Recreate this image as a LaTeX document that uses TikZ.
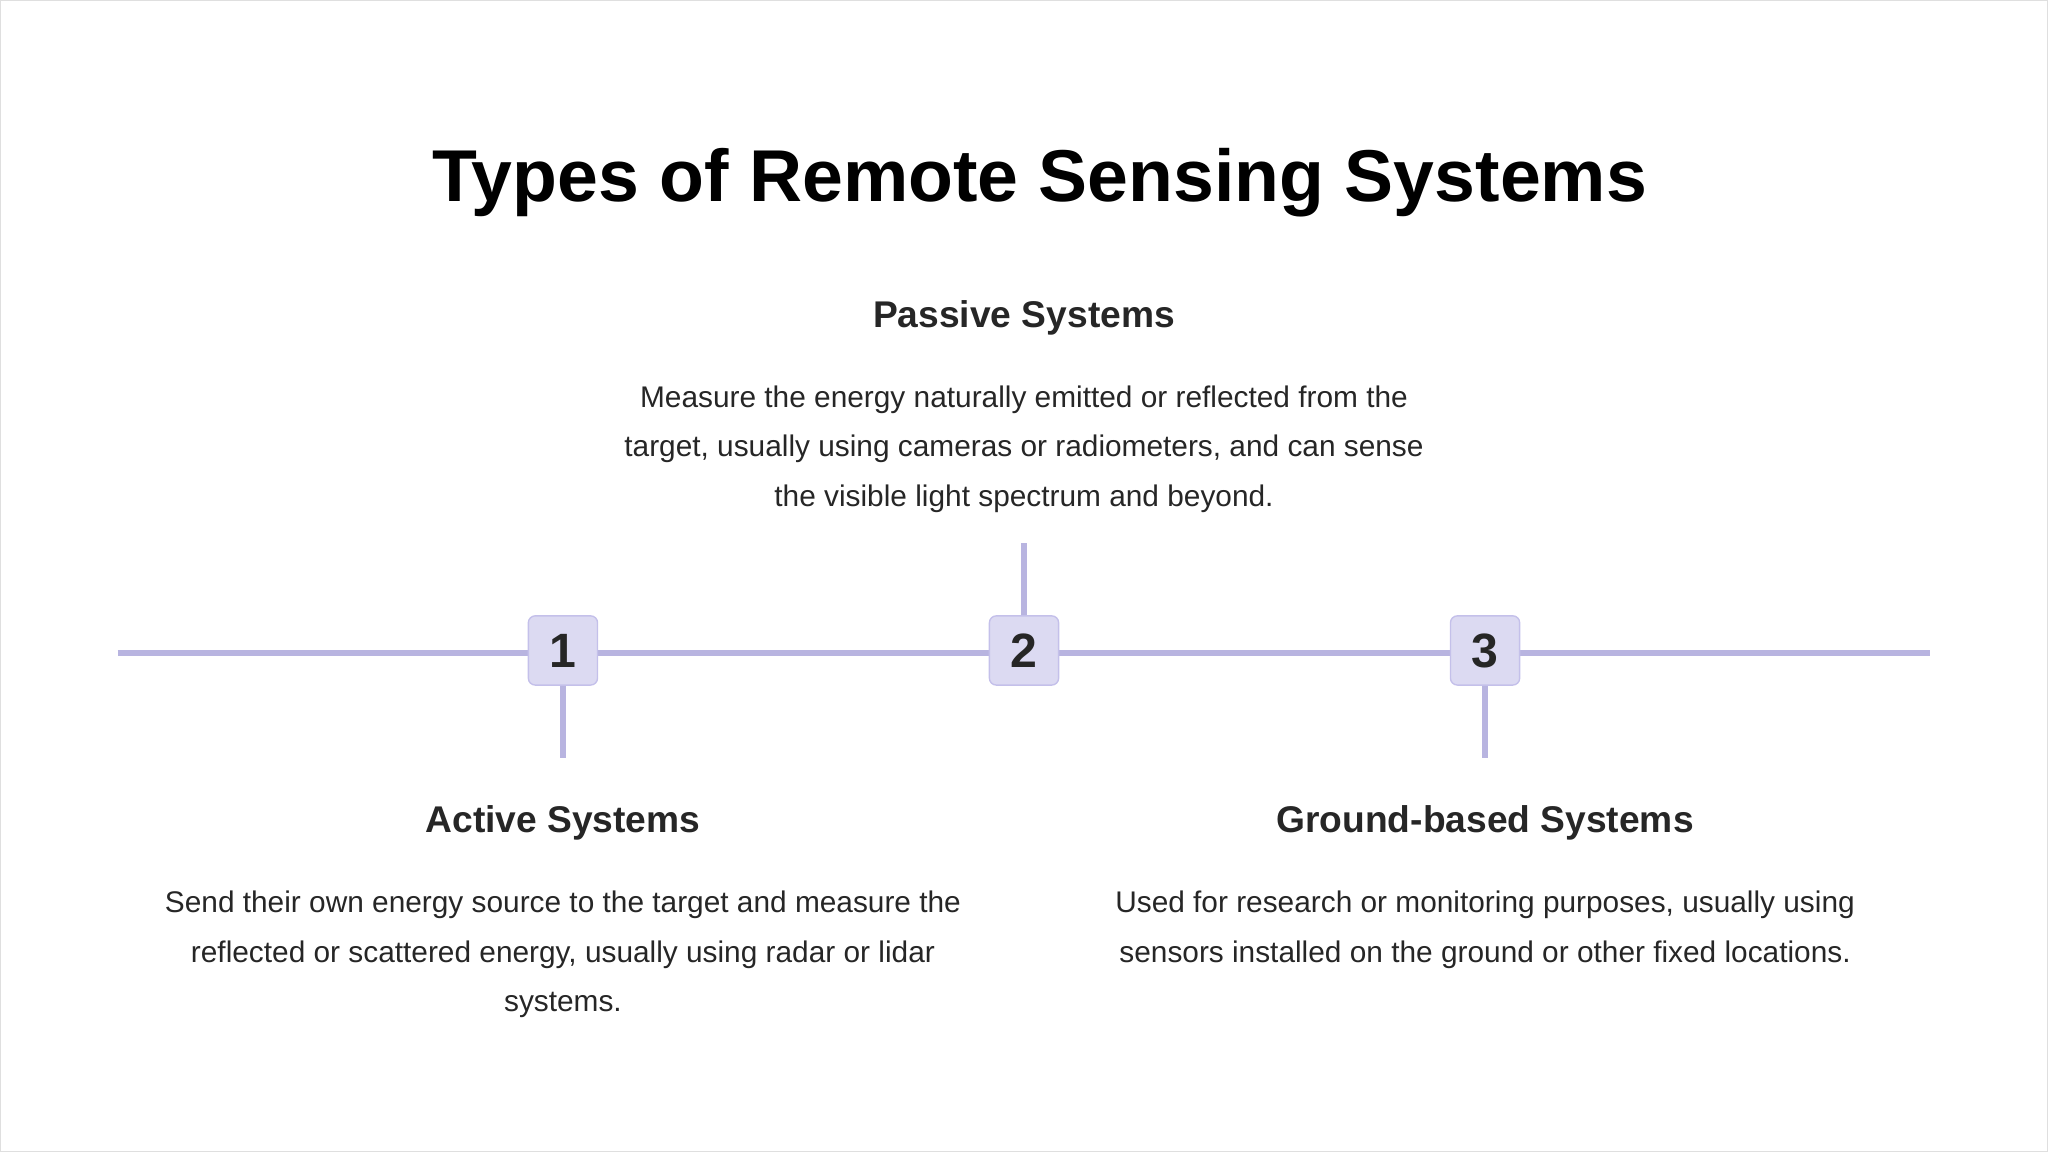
\documentclass[tikz,border=0pt]{standalone}
\usepackage{fontspec}
\setmainfont{Liberation Sans}
\begin{document}
\begin{tikzpicture}[x=0.02cm,y=-0.02cm,
  line/.style={draw=lineC,line width=2.4pt},
  box/.style={draw=boxB,fill=boxF,rounded corners=3pt,minimum size=1.06cm,line width=0.6pt,font=\fontsize{21}{21}\selectfont\bfseries,text=txt},
  head/.style={font=\fontsize{16.2}{16}\selectfont\bfseries,text=txt},
  body/.style={font=\fontsize{13}{21.6}\selectfont,text=txt,align=center}]
\definecolor{lineC}{HTML}{B8B4E0}
\definecolor{boxF}{HTML}{DCDAF2}
\definecolor{boxB}{HTML}{C4C0EA}
\definecolor{txt}{HTML}{262626}
\useasboundingbox (0,0) rectangle (1568,882);
\draw[gray!25,line width=0.6pt] (0.5,0.5) rectangle (1567.5,881.5);
\node[font=\fontsize{32}{32}\selectfont\bfseries] (title) at (796,140) {Types of Remote Sensing Systems};
\coordinate (L) at (90,500); \coordinate (R) at (1478,500);
\coordinate (t2) at (784,416); \coordinate (t1) at (431,580); \coordinate (t3) at (1137,580);
\draw[line] (L) -- (R);
\node[box] (b1) at (431,498) {1};
\node[box] (b2) at (784,498) {2};
\node[box] (b3) at (1137,498) {3};
\draw[line] (b2) -- (t2);
\draw[line] (b1) -- (t1);
\draw[line] (b3) -- (t3);
\node[head] (h2) at (784,243) {Passive Systems};
\node[body,anchor=north] (d2) at (784,289) {Measure the energy naturally emitted or reflected from the\\target, usually using cameras or radiometers, and can sense\\the visible light spectrum and beyond.};
\node[head] (h1) at (431,630) {Active Systems};
\node[body,anchor=north] (d1) at (431,676) {Send their own energy source to the target and measure the\\reflected or scattered energy, usually using radar or lidar\\systems.};
\node[head] (h3) at (1137,630) {Ground-based Systems};
\node[body,anchor=north] (d3) at (1137,676) {Used for research or monitoring purposes, usually using\\sensors installed on the ground or other fixed locations.};
\end{tikzpicture}
\end{document}
